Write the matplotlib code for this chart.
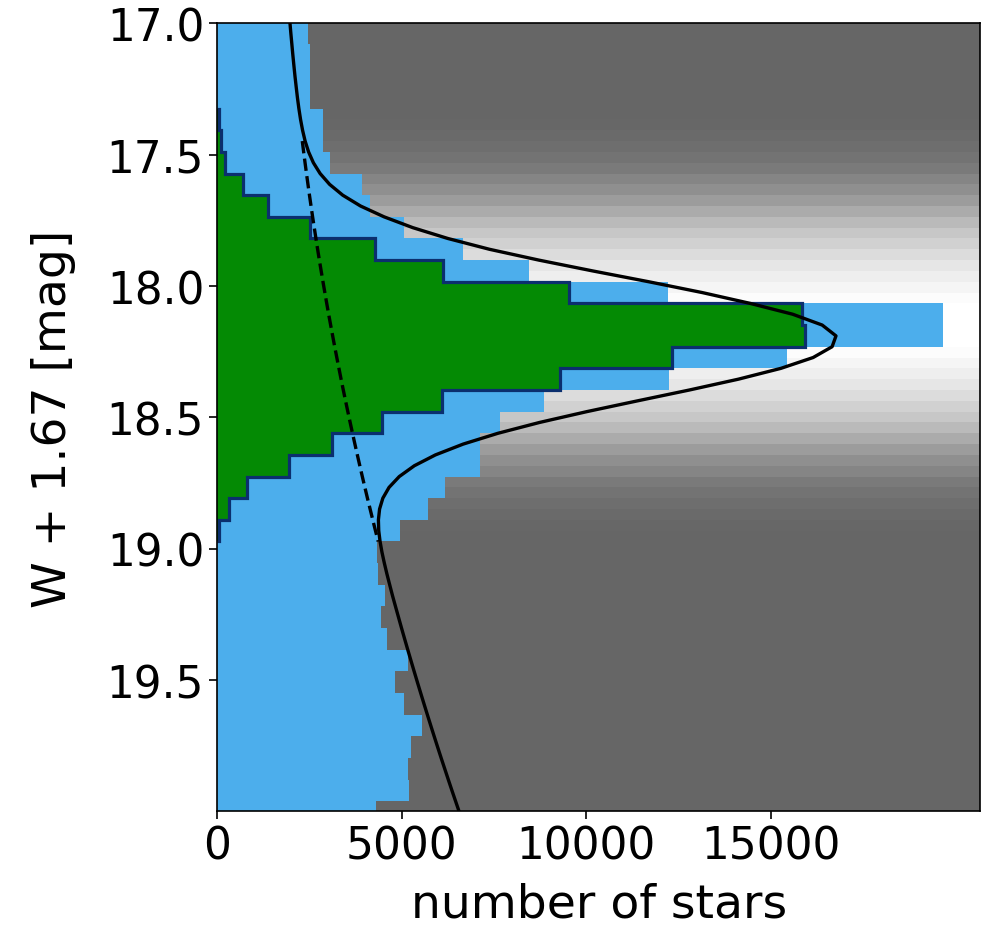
import matplotlib
matplotlib.use("Agg")
import matplotlib.pyplot as plt
import numpy as np

# ---- data ----
bin_start = 16.9946          # first histogram edge [mag]
bin_width = 0.0824           # histogram bin width [mag]

# blue histogram (all stars), one value per bin, top to bottom
blue_counts = [2468, 2514, 2514, 2514, 2874, 2874, 3056, 3915, 4141, 5062,
               6671, 8460, 12229, 19669, 19669, 15439, 12257, 8859, 7666, 7126,
               7126, 6175, 5722, 4954, 4330, 4366, 4547, 4439, 4592, 5180,
               4818, 5062, 5541, 5252, 5180, 5207, 4294]

# green histogram (selected stars)
green_counts = [0, 0, 0, 0, 55, 90, 200, 705, 1383, 2514,
                4276, 6110, 9545, 15846, 15936, 12321, 9293, 6101, 4457, 3101,
                1953, 797, 326, 55, 0, 0, 0, 0, 0, 0,
                0, 0, 0, 0, 0, 0, 0]

# background shading level (0=black, 1=white) per half-bin band
gray_levels = [0.40, 0.40, 0.40, 0.40, 0.40, 0.40, 0.40, 0.40, 0.40, 0.405,
               0.415, 0.43, 0.45, 0.48, 0.52, 0.56, 0.61, 0.67, 0.73, 0.78,
               0.82, 0.86, 0.90, 0.93, 0.96, 0.985, 1.0, 1.0, 1.0, 1.0,
               0.985, 0.96, 0.93, 0.90, 0.86, 0.82, 0.78, 0.73, 0.67, 0.61,
               0.56, 0.52, 0.48, 0.45, 0.43, 0.415, 0.405, 0.40, 0.40, 0.40,
               0.40, 0.40, 0.40, 0.40, 0.40, 0.40, 0.40, 0.40, 0.40, 0.40,
               0.40, 0.40, 0.40, 0.40, 0.40, 0.40, 0.40, 0.40, 0.40, 0.40,
               0.40, 0.40, 0.40, 0.40]

# fitted model read at half-bin sample points: total (solid) and background (dashed)
model_total = [1967, 1992, 2019, 2046, 2075, 2105, 2138, 2172, 2211, 2256,
               2311, 2380, 2474, 2604, 2787, 3044, 3400, 3883, 4521, 5300,
               6250, 7380, 8720, 10180, 11700, 13150, 14450, 15600, 16400, 16774,
               16669, 16154, 15281, 14129, 12801, 11398, 10018, 8736, 7609, 6665,
               5912, 5341, 4932, 4656, 4487, 4399, 4367, 4376, 4412, 4464,
               4528, 4598, 4673, 4749, 4830, 4912, 4994, 5078, 5163, 5249,
               5336, 5424, 5513, 5603, 5694, 5786, 5879, 5973, 6068, 6165,
               6262, 6360, 6460, 6560, 6662]
model_background = [1967, 1992, 2019, 2046, 2075, 2104, 2135, 2166, 2199, 2233,
                    2268, 2303, 2340, 2378, 2417, 2457, 2498, 2540, 2583, 2628,
                    2673, 2719, 2766, 2815, 2864, 2915, 2966, 3018, 3072, 3127,
                    3182, 3239, 3297, 3355, 3415, 3476, 3538, 3601, 3665, 3730,
                    3796, 3863, 3931, 4000, 4070, 4142, 4214, 4287, 4362, 4437,
                    4514, 4591, 4670, 4749, 4830, 4912, 4994, 5078, 5163, 5249,
                    5336, 5424, 5513, 5603, 5694, 5786, 5879, 5973, 6068, 6165,
                    6262, 6360, 6460, 6560, 6662]
dash_from, dash_to = 11, 49   # sample range where the background is dashed

ytick_vals = [17.0, 17.5, 18.0, 18.5, 19.0, 19.5]
xtick_vals = [0, 5000, 10000, 15000]
x_max = 20680

# ---- derived grids ----
edges = bin_start + bin_width * np.arange(len(blue_counts) + 1)
half_edges = bin_start + bin_width / 2 * np.arange(len(gray_levels) + 1)

fig = plt.figure(figsize=(9.83, 9.37), dpi=100)
ax = fig.add_axes([0.2211, 0.1329, 0.7759, 0.8410])

ax.pcolormesh([0, x_max], half_edges, np.array(gray_levels)[:, None],
              cmap="gray", vmin=0, vmax=1, shading="flat", zorder=0)

ax.stairs(blue_counts, edges, orientation="horizontal", fill=True,
          color="#4caeec", baseline=0, zorder=1)

g = np.array(green_counts)
nz = np.nonzero(g)[0]
lo, hi = nz[0], nz[-1] + 1
ax.stairs(g[lo:hi], edges[lo:hi + 1], orientation="horizontal", fill=True,
          color="#048a04", baseline=0, zorder=2)
ax.stairs(g[lo:hi], edges[lo:hi + 1], orientation="horizontal", fill=False,
          color="#0b2f6e", linewidth=2.3, baseline=0, zorder=3)

ax.plot(model_background[dash_from:dash_to], half_edges[dash_from:dash_to],
        color="black", linestyle="--", linewidth=2.4, zorder=4)
ax.plot(model_total, half_edges, color="black", linewidth=2.4, zorder=5)

ax.set_ylim(20.0, 17.0)
ax.set_xlim(0, x_max)
ax.set_yticks(ytick_vals)
ax.set_yticklabels([f"{v:.1f}" for v in ytick_vals])
ax.set_xticks(xtick_vals)
ax.set_xticklabels([str(v) for v in xtick_vals])
ax.tick_params(labelsize=31.5, length=6, width=1.2)
for s in ax.spines.values():
    s.set_linewidth(1.2)
    s.set_zorder(6)
ax.set_xlabel("number of stars", fontsize=34, labelpad=10)
ax.set_ylabel("W + 1.67 [mag]", fontsize=34, labelpad=22)

fig.savefig("out.png", dpi=100)
